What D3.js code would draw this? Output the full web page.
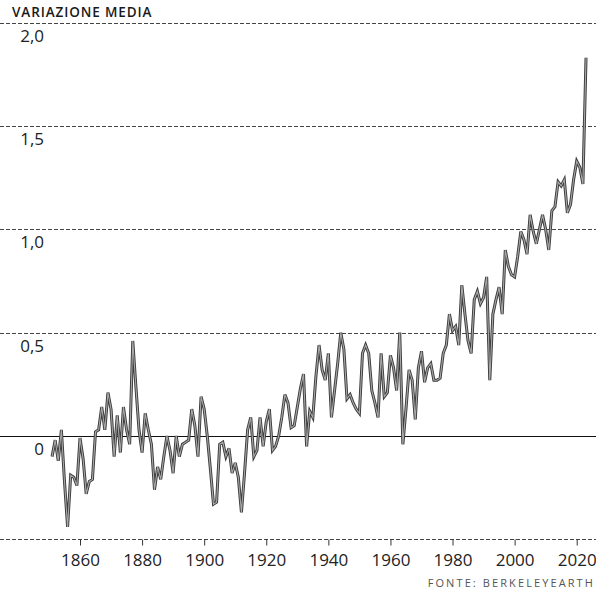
<!DOCTYPE html>
<html>
<head>
<meta charset="utf-8">
<script src="https://cdn.jsdelivr.net/npm/d3@7"></script>
<style>
  body { margin: 0; background: #fff; }
  svg { display: block; font-family: 'Open Sans', sans-serif; }
</style>
</head>
<body>
<svg id="chart"></svg>
<script>
// data: annual mean temperature change (°C)
var firstYear = 1851;
var anomalies = [
  -0.10, -0.02, -0.12, 0.03, -0.22, -0.44, -0.19, -0.20, -0.24,          // 1851-1859
  -0.01, -0.11, -0.28, -0.22, -0.21, 0.02, 0.03, 0.14, 0.03, 0.21,       // 1860s
  0.13, -0.10, 0.10, -0.08, 0.14, 0.03, -0.04, 0.46, 0.24, 0.03,         // 1870s
  -0.08, 0.11, 0.03, -0.04, -0.26, -0.15, -0.21, -0.10, 0.00, -0.07,     // 1880s
  -0.18, 0.00, -0.10, -0.04, -0.03, -0.02, 0.13, 0.05, -0.10, 0.19,      // 1890s
  0.13, 0.00, -0.16, -0.33, -0.32, -0.04, -0.03, -0.10, -0.06, -0.18,    // 1900s
  -0.13, -0.20, -0.37, -0.18, 0.03, 0.09, -0.10, -0.07, 0.09, -0.05,     // 1910s
  0.07, 0.13, -0.07, -0.05, 0.00, 0.09, 0.20, 0.16, 0.04, 0.05,          // 1920s
  0.14, 0.23, 0.30, -0.05, 0.12, 0.09, 0.29, 0.44, 0.32, 0.27,           // 1930s
  0.40, 0.09, 0.22, 0.35, 0.50, 0.42, 0.18, 0.20, 0.16, 0.13,            // 1940s
  0.11, 0.40, 0.44, 0.40, 0.22, 0.16, 0.09, 0.40, 0.19, 0.21,            // 1950s
  0.39, 0.33, 0.22, 0.50, -0.04, 0.13, 0.32, 0.27, 0.08, 0.33,           // 1960s
  0.41, 0.26, 0.33, 0.35, 0.27, 0.27, 0.28, 0.40, 0.44, 0.59,            // 1970s
  0.51, 0.53, 0.44, 0.73, 0.59, 0.46, 0.40, 0.66, 0.70, 0.64,            // 1980s
  0.67, 0.77, 0.27, 0.59, 0.66, 0.72, 0.59, 0.90, 0.82, 0.78,            // 1990s
  0.77, 0.87, 0.99, 0.95, 0.88, 1.07, 0.99, 0.93, 1.00, 1.07,            // 2000s
  1.00, 0.90, 1.09, 1.11, 1.23, 1.21, 1.24, 1.08, 1.12, 1.24,            // 2010s
  1.33, 1.30, 1.22, 1.83                                                  // 2020-2023
];

var yTicks = [-0.5, 0, 0.5, 1.0, 1.5, 2.0];
var xTicks = [1860, 1880, 1900, 1920, 1940, 1960, 1980, 2000, 2020];

var title = 'VARIAZIONE MEDIA';
var source = 'FONTE: BERKELEYEARTH';

var width = 596, height = 592;

var data = anomalies.map(function(v, i) { return { year: firstYear + i, value: v }; });

var x = d3.scaleLinear().domain([1860, 2020]).range([80, 576.7]);
var y = d3.scaleLinear().domain([-0.5, 2.0]).range([539.3, 22.7]);

var svg = d3.select('#chart')
    .attr('width', width)
    .attr('height', height);

// grid lines
svg.append('g')
    .selectAll('line')
    .data(yTicks)
    .enter()
    .append('line')
    .attr('x1', 0)
    .attr('x2', width)
    .attr('y1', function(d) { return Math.round(y(d)) + 0.5; })
    .attr('y2', function(d) { return Math.round(y(d)) + 0.5; })
    .attr('stroke', function(d) { return d === 0 ? '#111' : '#444'; })
    .attr('stroke-width', 1)
    .attr('stroke-dasharray', function(d) { return d === 0 ? null : '4,2'; });

// y labels
svg.append('g')
    .selectAll('text')
    .data(yTicks.filter(function(d) { return d > -0.5; }))
    .enter()
    .append('text')
    .attr('x', 44)
    .attr('y', function(d) { return y(d) + 19; })
    .attr('text-anchor', 'end')
    .style('font-size', '17px')
    .style('fill', '#222')
    .text(function(d) { return d === 0 ? '0' : d3.format('.1f')(d).replace('.', ','); });

// x axis
var xAxis = d3.axisBottom(x)
    .tickValues(xTicks)
    .tickFormat(d3.format('d'))
    .tickSize(6)
    .tickPadding(8);

var gx = svg.append('g')
    .attr('transform', 'translate(0,' + (Math.round(y(-0.5)) + 0.5) + ')')
    .call(xAxis);
gx.select('.domain').remove();
gx.selectAll('line').attr('stroke', '#333');
gx.selectAll('text')
    .style('font-family', "'Open Sans', sans-serif")
    .style('font-size', '17px')
    .style('fill', '#222');

// the line: dark outline with a light core
var line = d3.line()
    .x(function(d) { return x(d.year); })
    .y(function(d) { return y(d.value); });

svg.append('path')
    .datum(data)
    .attr('d', line)
    .attr('fill', 'none')
    .attr('stroke', '#3c3c3c')
    .attr('stroke-width', 3)
    .attr('stroke-linejoin', 'miter');

svg.append('path')
    .datum(data)
    .attr('d', line)
    .attr('fill', 'none')
    .attr('stroke', '#a8a8a8')
    .attr('stroke-width', 1.1)
    .attr('stroke-linejoin', 'miter');

// title
svg.append('text')
    .attr('x', 12)
    .attr('y', 16.5)
    .style('font-size', '13.5px')
    .style('font-weight', '600')
    .style('letter-spacing', '0.9px')
    .style('fill', '#1a1a1a')
    .text(title);

// source
svg.append('text')
    .attr('x', 595)
    .attr('y', 586.5)
    .attr('text-anchor', 'end')
    .style('font-size', '11px')
    .style('letter-spacing', '2.1px')
    .style('fill', '#555')
    .text(source);
</script>
</body>
</html>
